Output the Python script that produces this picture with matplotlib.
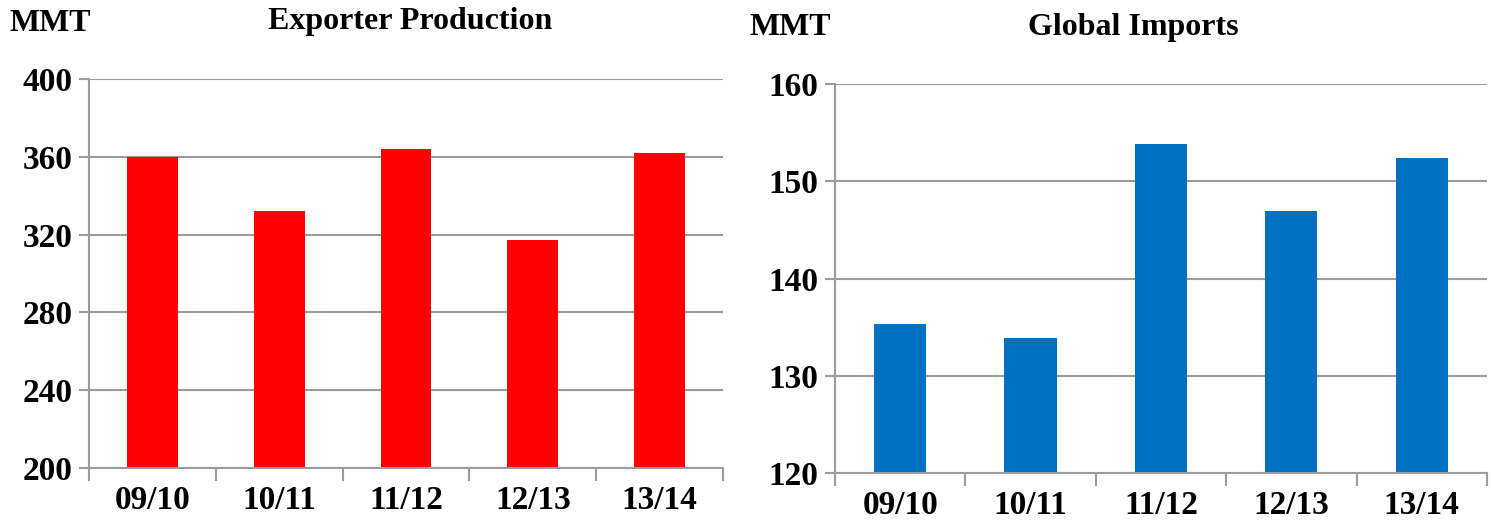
import matplotlib
matplotlib.use('Agg')
import matplotlib.pyplot as plt

plt.rcParams['font.family'] = ['Liberation Serif', 'DejaVu Serif']
plt.rcParams['font.weight'] = 'bold'

# Data
years = ['09/10', '10/11', '11/12', '12/13', '13/14']
exporter_production = [360, 332, 364, 317, 362]
global_imports = [135.3, 133.9, 153.8, 146.9, 152.4]

grid_color = '#9C9C9C'

fig = plt.figure(figsize=(14.91, 5.25), dpi=100)
ax1 = fig.add_axes([0.0597, 0.1086, 0.4252, 0.741])
ax2 = fig.add_axes([0.560, 0.099, 0.4373, 0.741])


def style_axis(ax, values, color, ylim, step):
    x = range(len(values))
    ax.bar(x, values, width=0.40, color=color, zorder=3)
    ax.set_ylim(ylim)
    ax.set_xlim(-0.5, len(values) - 0.5)
    ax.set_yticks(range(ylim[0], ylim[1] + 1, step))
    ax.set_xticks(list(x))
    ax.set_xticklabels(years)
    ax.set_xticks([i - 0.5 for i in range(len(values) + 1)], minor=True)
    ax.tick_params(axis='x', which='major', length=0, pad=12, labelsize=24)
    ax.tick_params(axis='x', which='minor', length=9, width=1.5, color=grid_color)
    ax.tick_params(axis='y', length=7, width=1.5, color=grid_color, labelsize=24, pad=5)
    ax.yaxis.grid(True, color=grid_color, linewidth=1.5, zorder=0)
    for side in ['top', 'right']:
        ax.spines[side].set_visible(False)
    for side in ['left', 'bottom']:
        ax.spines[side].set_color(grid_color)
        ax.spines[side].set_linewidth(1.5)
    ax.spines['bottom'].set_zorder(4)


style_axis(ax1, exporter_production, '#FF0000', (200, 400), 40)
style_axis(ax2, global_imports, '#0070C0', (120, 160), 10)

fig.text(0.0067, 0.955, 'MMT', fontsize=23, fontweight='bold', va='center', ha='left')
fig.text(0.275, 0.96, 'Exporter Production', fontsize=23, fontweight='bold', va='center', ha='center')
fig.text(0.503, 0.948, 'MMT', fontsize=23, fontweight='bold', va='center', ha='left')
fig.text(0.76, 0.948, 'Global Imports', fontsize=23, fontweight='bold', va='center', ha='center')

fig.savefig('out.png', dpi=100)
